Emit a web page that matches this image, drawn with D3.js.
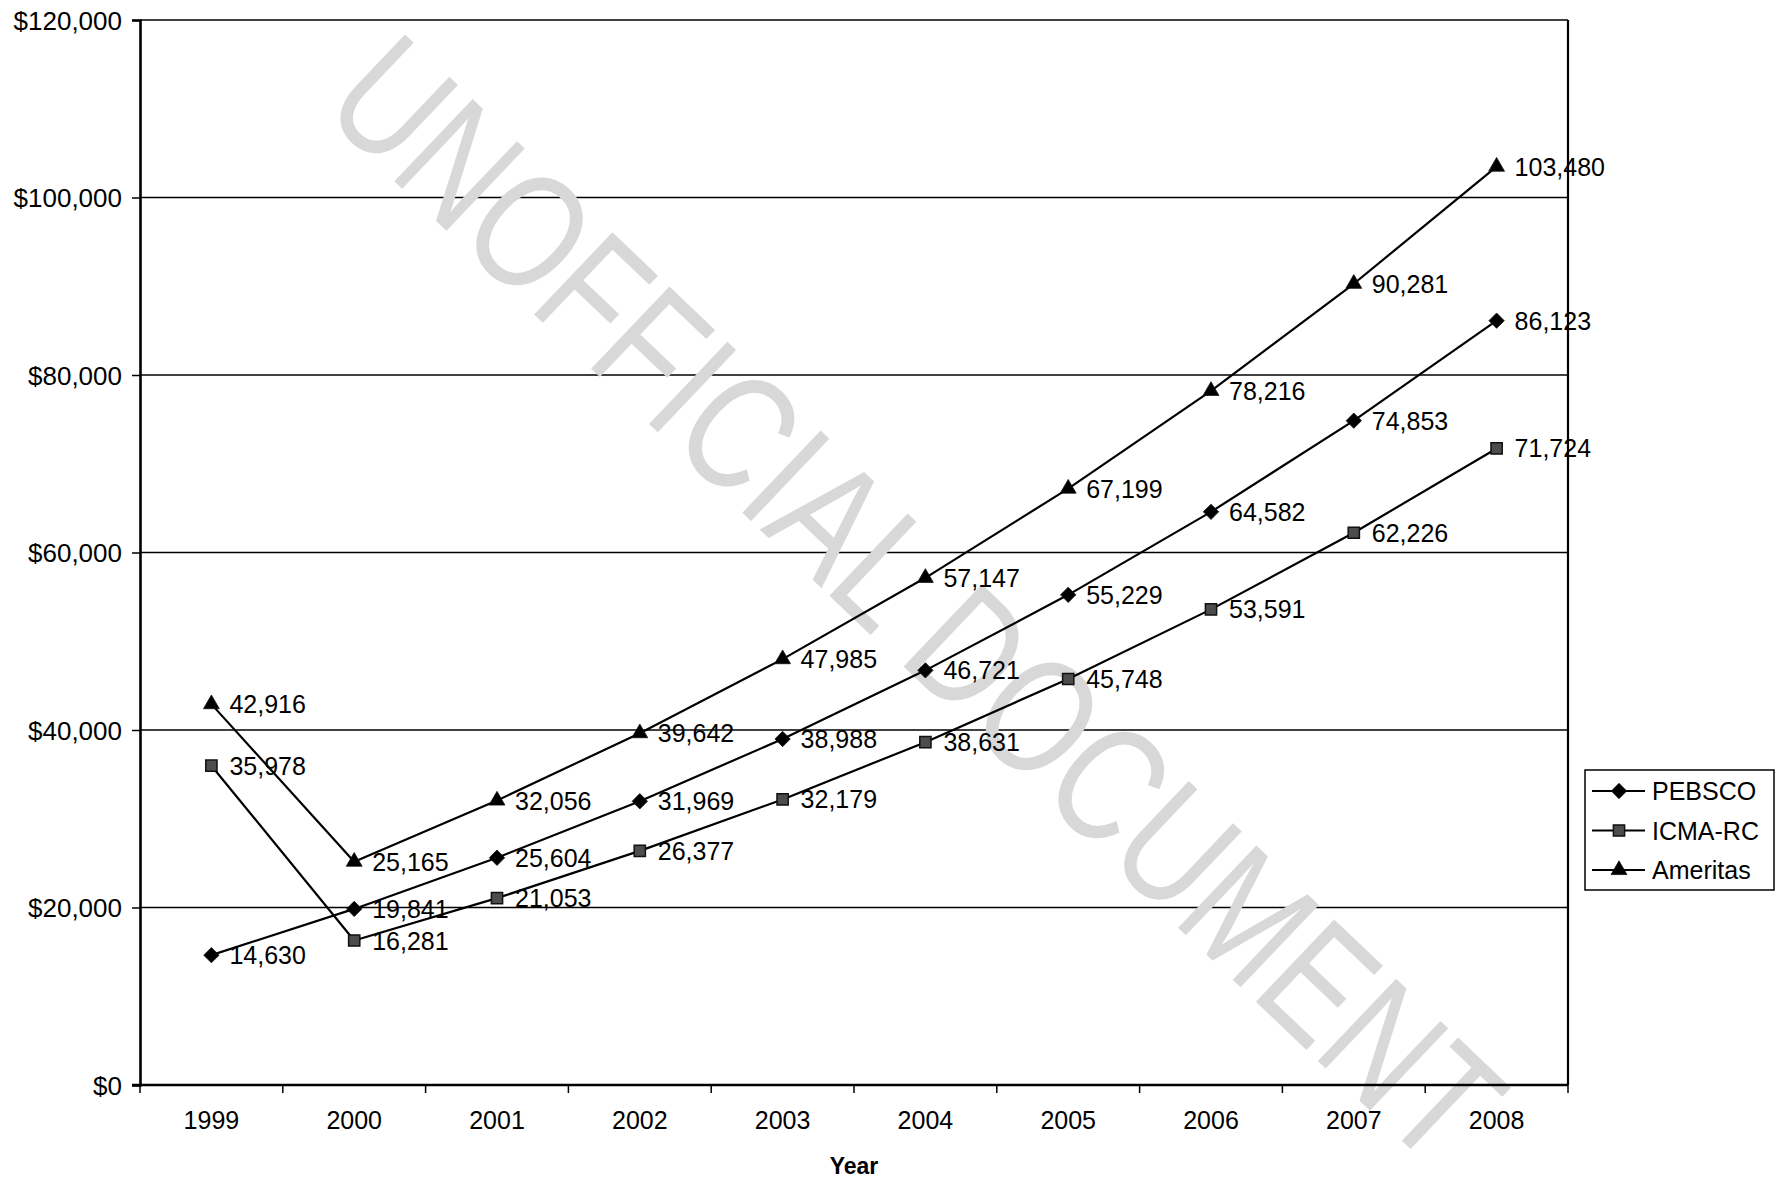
<!DOCTYPE html>
<html>
<head>
<meta charset="utf-8">
<script src="https://cdn.jsdelivr.net/npm/d3@7"></script>
<style>
  html, body { margin: 0; padding: 0; background: #fff; }
  svg text { font-family: "Liberation Sans", Arial, sans-serif; fill: #000; }
</style>
</head>
<body>
<div id="chart"></div>
<script>
// chart data
var years = ["1999", "2000", "2001", "2002", "2003", "2004", "2005", "2006", "2007", "2008"];
var pebsco = [14630, 19841, 25604, 31969, 38988, 46721, 55229, 64582, 74853, 86123];
var icma = [35978, 16281, 21053, 26377, 32179, 38631, 45748, 53591, 62226, 71724];
var ameritas = [42916, 25165, 32056, 39642, 47985, 57147, 67199, 78216, 90281, 103480];
var seriesNames = ["PEBSCO", "ICMA-RC", "Ameritas"];
var yTicks = [0, 20000, 40000, 60000, 80000, 100000, 120000];

var W = 1776, H = 1183;
var plot = { left: 140, right: 1568, top: 20, bottom: 1085 };

var svg = d3.select("#chart").append("svg")
    .attr("width", W)
    .attr("height", H);

var x = d3.scaleBand()
    .domain(years)
    .range([plot.left, plot.right]);
var y = d3.scaleLinear()
    .domain([0, 120000])
    .range([plot.bottom, plot.top]);

function cx(i) { return x(years[i]) + x.bandwidth() / 2; }

// gridlines
svg.append("g").selectAll("line")
    .data(yTicks.filter(function(d){ return d > 0; }))
    .enter().append("line")
        .attr("x1", plot.left)
        .attr("x2", plot.right)
        .attr("y1", function(d){ return y(d); })
        .attr("y2", function(d){ return y(d); })
        .attr("stroke", "#000")
        .attr("stroke-width", 1.6);

// watermark
svg.append("text")
    .attr("transform", "translate(918,598) rotate(43.6)")
    .attr("text-anchor", "middle")
    .attr("dy", "0.36em")
    .attr("font-size", 165)
    .attr("textLength", 1540)
    .attr("lengthAdjust", "spacingAndGlyphs")
    .style("fill", "#d8d8d8")
    .text("UNOFFICIAL DOCUMENT");

// plot frame (right side)
svg.append("line")
    .attr("x1", plot.right).attr("x2", plot.right)
    .attr("y1", plot.top).attr("y2", plot.bottom)
    .attr("stroke", "#000").attr("stroke-width", 2.2);

// Y axis
var yAxisCall = d3.axisLeft(y)
    .tickValues(yTicks)
    .tickSize(8)
    .tickPadding(10)
    .tickFormat(function(d){ return "$" + d3.format(",")(d); });
var yAxis = svg.append("g")
    .attr("transform", "translate(" + plot.left + ",0)")
    .call(yAxisCall);
yAxis.select(".domain").attr("stroke-width", 2.6);
yAxis.selectAll(".tick line").attr("stroke-width", 1.5);
yAxis.selectAll(".tick text")
    .attr("font-size", 26)
    .attr("font-family", "Liberation Sans, Arial, sans-serif")
    .attr("dy", "0.36em");

// X axis (labels at category centres, ticks at boundaries)
var xAxisCall = d3.axisBottom(x).tickSize(0).tickPadding(26);
var xAxis = svg.append("g")
    .attr("transform", "translate(0," + plot.bottom + ")")
    .call(xAxisCall);
xAxis.select(".domain").remove();
xAxis.selectAll(".tick text")
    .attr("font-size", 25)
    .attr("font-family", "Liberation Sans, Arial, sans-serif");
svg.append("line")
    .attr("x1", plot.left - 8).attr("x2", plot.right)
    .attr("y1", plot.bottom).attr("y2", plot.bottom)
    .attr("stroke", "#000").attr("stroke-width", 2.6);
svg.append("g").selectAll("line")
    .data(years.concat(["end"]))
    .enter().append("line")
        .attr("x1", function(d){ return d === "end" ? plot.right : x(d); })
        .attr("x2", function(d){ return d === "end" ? plot.right : x(d); })
        .attr("y1", plot.bottom)
        .attr("y2", plot.bottom + 8)
        .attr("stroke", "#000")
        .attr("stroke-width", 1.5);

svg.append("text")
    .attr("x", (plot.left + plot.right) / 2)
    .attr("y", 1174)
    .attr("text-anchor", "middle")
    .attr("font-size", 23)
    .attr("font-weight", "bold")
    .text("Year");

// markers
var symbols = [d3.symbolDiamond2, d3.symbolSquare2, d3.symbolTriangle2];
var symSize = [150, 160, 180];
var symFill = ["#000", "#4d4d4d", "#000"];
function marker(sel, k) {
    sel.attr("d", d3.symbol().type(symbols[k]).size(symSize[k])())
        .attr("fill", symFill[k])
        .attr("stroke", "#111")
        .attr("stroke-width", k === 1 ? 1.5 : 0.8);
}

var line = d3.line()
    .x(function(d, i){ return cx(i); })
    .y(function(d){ return y(d); });

var allSeries = [pebsco, icma, ameritas];

allSeries.forEach(function(vals, k){
    svg.append("path")
        .datum(vals)
        .attr("d", line)
        .attr("fill", "none")
        .attr("stroke", "#000")
        .attr("stroke-width", 2.2)
        .attr("stroke-linejoin", "round");
});

allSeries.forEach(function(vals, k){
    var g = svg.append("g");
    g.selectAll("path")
        .data(vals)
        .enter().append("path")
            .attr("transform", function(d, i){ return "translate(" + cx(i) + "," + y(d) + ")"; })
            .call(marker, k);
    g.selectAll("text")
        .data(vals)
        .enter().append("text")
            .attr("x", function(d, i){ return cx(i) + 18; })
            .attr("y", function(d){ return y(d); })
            .attr("dy", "0.36em")
            .attr("font-size", 25)
            .text(function(d){ return d3.format(",")(d); });
});

// legend
var legend = svg.append("g");
legend.append("rect")
    .attr("x", 1585).attr("y", 770)
    .attr("width", 189).attr("height", 120)
    .attr("fill", "#fff")
    .attr("stroke", "#000")
    .attr("stroke-width", 1.5);

seriesNames.forEach(function(name, k){
    var row = legend.append("g")
        .attr("transform", "translate(0," + (791 + k * 39.5) + ")");
    row.append("line")
        .attr("x1", 1592).attr("x2", 1645)
        .attr("y1", 0).attr("y2", 0)
        .attr("stroke", "#000").attr("stroke-width", 2.2);
    row.append("path")
        .attr("transform", "translate(1619,0)")
        .call(marker, k);
    row.append("text")
        .attr("x", 1652)
        .attr("y", 0)
        .attr("dy", "0.36em")
        .attr("font-size", 25)
        .text(name);
});
</script>
</body>
</html>
